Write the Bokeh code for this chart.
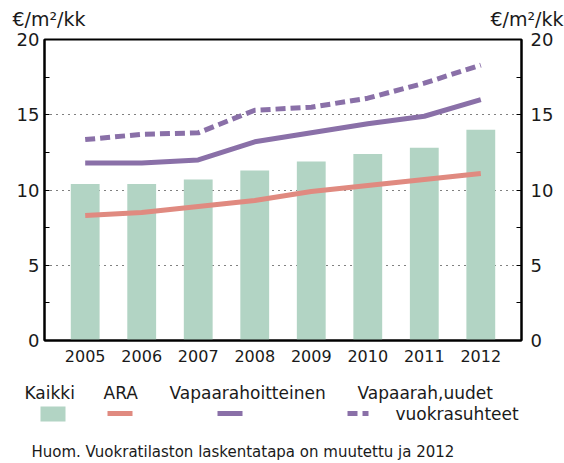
from bokeh.plotting import figure
from bokeh.models import Range1d, LinearAxis, FixedTicker, ColumnDataSource
from bokeh.layouts import column
from bokeh.embed import file_html
from bokeh.resources import INLINE
from bokeh.core.properties import value

years = [2005, 2006, 2007, 2008, 2009, 2010, 2011, 2012]
kaikki = [10.4, 10.4, 10.7, 11.3, 11.9, 12.4, 12.8, 14.0]
ara = [8.3, 8.5, 8.9, 9.3, 9.9, 10.3, 10.7, 11.1]
vapaarahoitteinen = [11.8, 11.8, 12.0, 13.2, 13.8, 14.4, 14.9, 16.0]
vapaarah_uudet = [13.35, 13.7, 13.8, 15.3, 15.5, 16.1, 17.1, 18.3]
y_ticks = [0, 5, 10, 15, 20]
y_minor = [2.5, 7.5, 12.5, 17.5]
legend_labels = ["Kaikki", "ARA", "Vapaarahoitteinen", "Vapaarah,uudet", "vuokrasuhteet"]
unit = "€/m²/kk"
note = "Huom. Vuokratilaston laskentatapa on muutettu ja 2012"

GREEN = "#b2d4c4"
PINK = "#e08a80"
PURPLE = "#8a70a8"
FONT = "DejaVu Sans"
TXT = "#1a1a1a"
W = 564


def blank(height):
    f = figure(width=W, height=height, output_backend="svg", toolbar_location=None,
               x_range=Range1d(0, W), y_range=Range1d(height, 0),
               x_axis_location=None, y_axis_location=None,
               min_border=0, min_border_left=0, min_border_right=0,
               min_border_top=0, min_border_bottom=0, frame_align=False)
    f.grid.visible = False
    f.outline_line_color = None
    return f


# header with unit texts
hd = blank(28)
hd.text(x=[12, 490], y=[18.5, 18.5], text=[unit, unit], text_font=value(FONT),
        text_font_size="19px", text_color=TXT, text_baseline="alphabetic")

# main chart
p = figure(width=W, height=342, output_backend="svg", toolbar_location=None,
           x_range=Range1d(2004.28, 2012.72), y_range=Range1d(0, 20),
           min_border_left=44, min_border_right=43, min_border_top=11, min_border_bottom=30,
           y_axis_location=None, frame_align=False)
p.outline_line_color = "black"
p.outline_line_width = 2
p.background_fill_color = "white"
p.border_fill_color = "white"

p.xgrid.visible = False
p.ygrid.ticker = FixedTicker(ticks=[5, 10, 15])
p.ygrid.grid_line_color = "black"
p.ygrid.grid_line_dash = "1 5"
p.ygrid.grid_line_width = 1

xa = p.xaxis[0]
xa.ticker = FixedTicker(ticks=years)
xa.major_label_overrides = {y: str(y) for y in years}
xa.major_tick_in = 0
xa.major_tick_out = 0
xa.minor_tick_in = 0
xa.minor_tick_out = 0
xa.axis_line_width = 2
xa.axis_line_color = "black"
xa.major_label_text_font = FONT
xa.major_label_text_font_size = "16px"
xa.major_label_text_color = TXT
xa.major_label_standoff = 9

for side, standoff in [("left", 5), ("right", 9)]:
    ax = LinearAxis(ticker=FixedTicker(ticks=y_ticks, minor_ticks=y_minor))
    ax.major_tick_in = 5
    ax.major_tick_out = 0
    ax.minor_tick_in = 5
    ax.minor_tick_out = 0
    ax.axis_line_width = 2
    ax.axis_line_color = "black"
    ax.major_tick_line_width = 1
    ax.minor_tick_line_width = 1
    ax.major_label_text_font = FONT
    ax.major_label_text_font_size = "18px"
    ax.major_label_text_color = TXT
    ax.major_label_standoff = standoff
    p.add_layout(ax, side)

src = ColumnDataSource(dict(x=years, kaikki=kaikki, ara=ara, vr=vapaarahoitteinen, vu=vapaarah_uudet))
p.vbar(x="x", top="kaikki", width=0.51, source=src, fill_color=GREEN, line_color=None)
p.line(x="x", y="ara", source=src, line_color=PINK, line_width=5)
p.line(x="x", y="vr", source=src, line_color=PURPLE, line_width=5)
p.line(x="x", y="vu", source=src, line_color=PURPLE, line_width=5, line_dash="10 5")

# legend / note panel
lg = blank(93)
lg.text(x=[24, 103, 169, 357], y=[22, 22, 22, 22], text=legend_labels[:4],
        text_font=value(FONT), text_font_size="17px", text_color=TXT, text_baseline="alphabetic")
lg.text(x=[395], y=[43], text=[legend_labels[4]],
        text_font=value(FONT), text_font_size="17px", text_color=TXT, text_baseline="alphabetic")
lg.quad(left=[40], right=[65], top=[36], bottom=[51], fill_color=GREEN, line_color=None)
lg.line(x=[107, 132], y=[43, 43], line_color=PINK, line_width=5)
lg.line(x=[217, 242], y=[43, 43], line_color=PURPLE, line_width=5)
lg.line(x=[347, 368], y=[43, 43], line_color=PURPLE, line_width=5, line_dash="10 5")
lg.text(x=[31], y=[81], text=[note], text_font=value(FONT), text_font_size="15px",
        text_color=TXT, text_baseline="alphabetic")

layout = column(hd, p, lg, spacing=0)
open("out.html", "w").write(file_html(layout, INLINE))
